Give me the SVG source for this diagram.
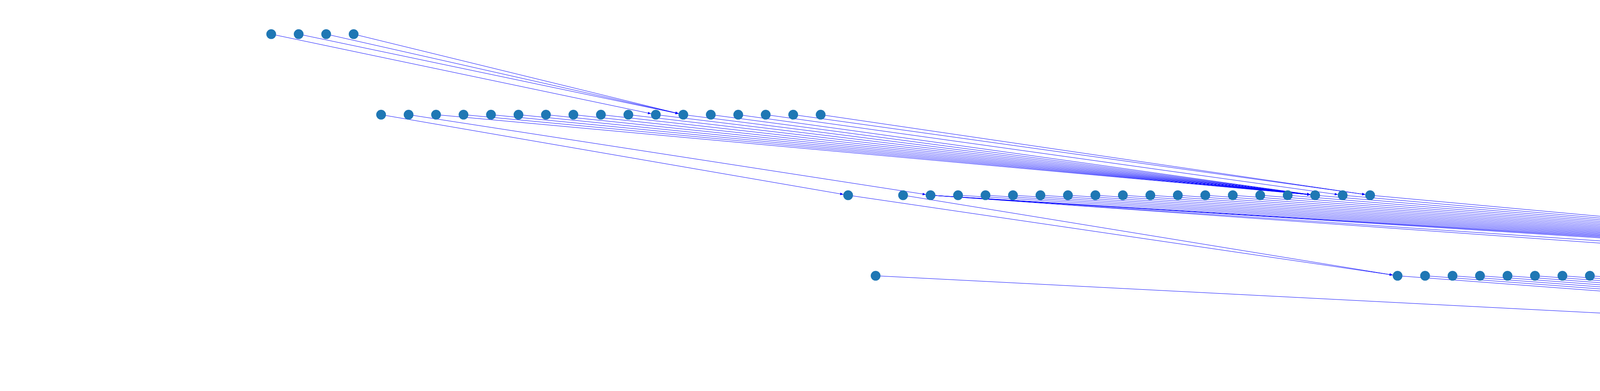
<svg xmlns="http://www.w3.org/2000/svg" width="8000" height="1000" viewBox="0 0 8000 1000">
<style>
.e{stroke:#0000ff;stroke-width:1;fill:none;marker-end:url(#arr)}
.n{fill:#1f77b4}
</style>
<defs>
<marker id="arr" markerUnits="userSpaceOnUse" markerWidth="8" markerHeight="6.5" viewBox="0 0 8 6.5" refX="20.5" refY="3.25" orient="auto" overflow="visible"><path d="M0,0 L8,3.25 L0,6.5 Z" fill="#0000ff"/></marker>
</defs>
<rect width="8000" height="1000" fill="#ffffff"/>
<g id="edges">
<line class="e" x1="694.3" y1="87.3" x2="1678.9" y2="293.3"/>
<line class="e" x1="764.6" y1="87.3" x2="1749.3" y2="293.3"/>
<line class="e" x1="835.0" y1="87.3" x2="1749.3" y2="293.3"/>
<line class="e" x1="905.3" y1="87.3" x2="1749.3" y2="293.3"/>
<line class="e" x1="975.6" y1="293.3" x2="2171.2" y2="499.3"/>
<line class="e" x1="1046.0" y1="293.3" x2="2382.2" y2="499.3"/>
<line class="e" x1="1116.3" y1="293.3" x2="3366.8" y2="499.3"/>
<line class="e" x1="1186.6" y1="293.3" x2="3366.8" y2="499.3"/>
<line class="e" x1="1256.9" y1="293.3" x2="3366.8" y2="499.3"/>
<line class="e" x1="1327.3" y1="293.3" x2="3366.8" y2="499.3"/>
<line class="e" x1="1397.6" y1="293.3" x2="3366.8" y2="499.3"/>
<line class="e" x1="1467.9" y1="293.3" x2="3366.8" y2="499.3"/>
<line class="e" x1="1538.3" y1="293.3" x2="3366.8" y2="499.3"/>
<line class="e" x1="1608.6" y1="293.3" x2="3366.8" y2="499.3"/>
<line class="e" x1="1678.9" y1="293.3" x2="3366.8" y2="499.3"/>
<line class="e" x1="1749.3" y1="293.3" x2="3366.8" y2="499.3"/>
<line class="e" x1="1819.6" y1="293.3" x2="3366.8" y2="499.3"/>
<line class="e" x1="1889.9" y1="293.3" x2="3366.8" y2="499.3"/>
<line class="e" x1="1960.2" y1="293.3" x2="3437.2" y2="499.3"/>
<line class="e" x1="2030.6" y1="293.3" x2="3507.5" y2="499.3"/>
<line class="e" x1="2100.9" y1="293.3" x2="3507.5" y2="499.3"/>
<line class="e" x1="2171.2" y1="499.3" x2="3577.8" y2="705.3"/>
<line class="e" x1="2311.9" y1="499.3" x2="3577.8" y2="705.3"/>
<line class="e" x1="2382.2" y1="499.3" x2="5265.8" y2="705.3"/>
<line class="e" x1="2382.2" y1="499.3" x2="5406.4" y2="705.3"/>
<line class="e" x1="2382.2" y1="499.3" x2="5617.4" y2="705.3"/>
<line class="e" x1="2382.2" y1="499.3" x2="5687.7" y2="705.3"/>
<line class="e" x1="2382.2" y1="499.3" x2="5758.1" y2="705.3"/>
<line class="e" x1="2452.6" y1="499.3" x2="5758.1" y2="705.3"/>
<line class="e" x1="2522.9" y1="499.3" x2="5758.1" y2="705.3"/>
<line class="e" x1="2593.2" y1="499.3" x2="5758.1" y2="705.3"/>
<line class="e" x1="2663.5" y1="499.3" x2="5758.1" y2="705.3"/>
<line class="e" x1="2733.9" y1="499.3" x2="5758.1" y2="705.3"/>
<line class="e" x1="2804.2" y1="499.3" x2="5758.1" y2="705.3"/>
<line class="e" x1="2874.5" y1="499.3" x2="5758.1" y2="705.3"/>
<line class="e" x1="2944.9" y1="499.3" x2="5758.1" y2="705.3"/>
<line class="e" x1="3015.2" y1="499.3" x2="5758.1" y2="705.3"/>
<line class="e" x1="3085.5" y1="499.3" x2="5758.1" y2="705.3"/>
<line class="e" x1="3155.9" y1="499.3" x2="5758.1" y2="705.3"/>
<line class="e" x1="3226.2" y1="499.3" x2="5758.1" y2="705.3"/>
<line class="e" x1="3296.5" y1="499.3" x2="5758.1" y2="705.3"/>
<line class="e" x1="3366.8" y1="499.3" x2="5758.1" y2="705.3"/>
<line class="e" x1="3437.2" y1="499.3" x2="5758.1" y2="705.3"/>
<line class="e" x1="3507.5" y1="499.3" x2="5758.1" y2="705.3"/>
<line class="e" x1="2241.6" y1="705.3" x2="6250.4" y2="911.3"/>
<line class="e" x1="3577.8" y1="705.3" x2="6320.7" y2="911.3"/>
<line class="e" x1="3648.2" y1="705.3" x2="6391.0" y2="911.3"/>
<line class="e" x1="3718.5" y1="705.3" x2="6461.4" y2="911.3"/>
<line class="e" x1="3788.8" y1="705.3" x2="6531.7" y2="911.3"/>
<line class="e" x1="3859.2" y1="705.3" x2="6602.0" y2="911.3"/>
<line class="e" x1="3929.5" y1="705.3" x2="6672.4" y2="911.3"/>
<line class="e" x1="3999.8" y1="705.3" x2="6742.7" y2="911.3"/>
<line class="e" x1="4070.1" y1="705.3" x2="6813.0" y2="911.3"/>
<line class="e" x1="4140.5" y1="705.3" x2="6883.3" y2="911.3"/>
<line class="e" x1="4210.8" y1="705.3" x2="6953.7" y2="911.3"/>
<line class="e" x1="4281.1" y1="705.3" x2="7024.0" y2="911.3"/>
<line class="e" x1="4351.5" y1="705.3" x2="7094.3" y2="911.3"/>
<line class="e" x1="4421.8" y1="705.3" x2="7164.7" y2="911.3"/>
<line class="e" x1="4492.1" y1="705.3" x2="7235.0" y2="911.3"/>
<line class="e" x1="4562.5" y1="705.3" x2="7235.0" y2="911.3"/>
<line class="e" x1="4632.8" y1="705.3" x2="7235.0" y2="911.3"/>
<line class="e" x1="4703.1" y1="705.3" x2="7235.0" y2="911.3"/>
<line class="e" x1="4773.4" y1="705.3" x2="7235.0" y2="911.3"/>
<line class="e" x1="4843.8" y1="705.3" x2="7235.0" y2="911.3"/>
<line class="e" x1="4914.1" y1="705.3" x2="7235.0" y2="911.3"/>
<line class="e" x1="4984.4" y1="705.3" x2="7235.0" y2="911.3"/>
<line class="e" x1="5054.8" y1="705.3" x2="7235.0" y2="911.3"/>
<line class="e" x1="5125.1" y1="705.3" x2="7235.0" y2="911.3"/>
<line class="e" x1="5195.4" y1="705.3" x2="7235.0" y2="911.3"/>
<line class="e" x1="5265.8" y1="705.3" x2="7235.0" y2="911.3"/>
<line class="e" x1="5336.1" y1="705.3" x2="7235.0" y2="911.3"/>
<line class="e" x1="5406.4" y1="705.3" x2="7235.0" y2="911.3"/>
<line class="e" x1="5476.7" y1="705.3" x2="7235.0" y2="911.3"/>
<line class="e" x1="5547.1" y1="705.3" x2="7235.0" y2="911.3"/>
<line class="e" x1="5617.4" y1="705.3" x2="7235.0" y2="911.3"/>
<line class="e" x1="5687.7" y1="705.3" x2="7235.0" y2="911.3"/>
<line class="e" x1="5758.1" y1="705.3" x2="7235.0" y2="911.3"/>
<line class="e" x1="5828.4" y1="705.3" x2="7235.0" y2="911.3"/>
<line class="e" x1="5898.7" y1="705.3" x2="7235.0" y2="911.3"/>
<line class="e" x1="5969.1" y1="705.3" x2="7235.0" y2="911.3"/>
<line class="e" x1="6039.4" y1="705.3" x2="7235.0" y2="911.3"/>
<line class="e" x1="6109.7" y1="705.3" x2="7235.0" y2="911.3"/>
<line class="e" x1="6180.0" y1="705.3" x2="7305.3" y2="911.3"/>
</g>
<g id="nodes">
<g id="n0"><circle class="n" cx="694.3" cy="87.3" r="12.5"/></g>
<g id="n1"><circle class="n" cx="764.6" cy="87.3" r="12.5"/></g>
<g id="n2"><circle class="n" cx="835.0" cy="87.3" r="12.5"/></g>
<g id="n3"><circle class="n" cx="905.3" cy="87.3" r="12.5"/></g>
<g id="n4"><circle class="n" cx="975.6" cy="293.3" r="12.5"/></g>
<g id="n5"><circle class="n" cx="1046.0" cy="293.3" r="12.5"/></g>
<g id="n6"><circle class="n" cx="1116.3" cy="293.3" r="12.5"/></g>
<g id="n7"><circle class="n" cx="1186.6" cy="293.3" r="12.5"/></g>
<g id="n8"><circle class="n" cx="1256.9" cy="293.3" r="12.5"/></g>
<g id="n9"><circle class="n" cx="1327.3" cy="293.3" r="12.5"/></g>
<g id="n10"><circle class="n" cx="1397.6" cy="293.3" r="12.5"/></g>
<g id="n11"><circle class="n" cx="1467.9" cy="293.3" r="12.5"/></g>
<g id="n12"><circle class="n" cx="1538.3" cy="293.3" r="12.5"/></g>
<g id="n13"><circle class="n" cx="1608.6" cy="293.3" r="12.5"/></g>
<g id="n14"><circle class="n" cx="1678.9" cy="293.3" r="12.5"/></g>
<g id="n15"><circle class="n" cx="1749.3" cy="293.3" r="12.5"/></g>
<g id="n16"><circle class="n" cx="1819.6" cy="293.3" r="12.5"/></g>
<g id="n17"><circle class="n" cx="1889.9" cy="293.3" r="12.5"/></g>
<g id="n18"><circle class="n" cx="1960.2" cy="293.3" r="12.5"/></g>
<g id="n19"><circle class="n" cx="2030.6" cy="293.3" r="12.5"/></g>
<g id="n20"><circle class="n" cx="2100.9" cy="293.3" r="12.5"/></g>
<g id="n21"><circle class="n" cx="2171.2" cy="499.3" r="12.5"/></g>
<g id="n22"><circle class="n" cx="2241.6" cy="705.3" r="12.5"/></g>
<g id="n23"><circle class="n" cx="2311.9" cy="499.3" r="12.5"/></g>
<g id="n24"><circle class="n" cx="2382.2" cy="499.3" r="12.5"/></g>
<g id="n25"><circle class="n" cx="2452.6" cy="499.3" r="12.5"/></g>
<g id="n26"><circle class="n" cx="2522.9" cy="499.3" r="12.5"/></g>
<g id="n27"><circle class="n" cx="2593.2" cy="499.3" r="12.5"/></g>
<g id="n28"><circle class="n" cx="2663.5" cy="499.3" r="12.5"/></g>
<g id="n29"><circle class="n" cx="2733.9" cy="499.3" r="12.5"/></g>
<g id="n30"><circle class="n" cx="2804.2" cy="499.3" r="12.5"/></g>
<g id="n31"><circle class="n" cx="2874.5" cy="499.3" r="12.5"/></g>
<g id="n32"><circle class="n" cx="2944.9" cy="499.3" r="12.5"/></g>
<g id="n33"><circle class="n" cx="3015.2" cy="499.3" r="12.5"/></g>
<g id="n34"><circle class="n" cx="3085.5" cy="499.3" r="12.5"/></g>
<g id="n35"><circle class="n" cx="3155.9" cy="499.3" r="12.5"/></g>
<g id="n36"><circle class="n" cx="3226.2" cy="499.3" r="12.5"/></g>
<g id="n37"><circle class="n" cx="3296.5" cy="499.3" r="12.5"/></g>
<g id="n38"><circle class="n" cx="3366.8" cy="499.3" r="12.5"/></g>
<g id="n39"><circle class="n" cx="3437.2" cy="499.3" r="12.5"/></g>
<g id="n40"><circle class="n" cx="3507.5" cy="499.3" r="12.5"/></g>
<g id="n41"><circle class="n" cx="3577.8" cy="705.3" r="12.5"/></g>
<g id="n42"><circle class="n" cx="3648.2" cy="705.3" r="12.5"/></g>
<g id="n43"><circle class="n" cx="3718.5" cy="705.3" r="12.5"/></g>
<g id="n44"><circle class="n" cx="3788.8" cy="705.3" r="12.5"/></g>
<g id="n45"><circle class="n" cx="3859.2" cy="705.3" r="12.5"/></g>
<g id="n46"><circle class="n" cx="3929.5" cy="705.3" r="12.5"/></g>
<g id="n47"><circle class="n" cx="3999.8" cy="705.3" r="12.5"/></g>
<g id="n48"><circle class="n" cx="4070.1" cy="705.3" r="12.5"/></g>
<g id="n49"><circle class="n" cx="4140.5" cy="705.3" r="12.5"/></g>
<g id="n50"><circle class="n" cx="4210.8" cy="705.3" r="12.5"/></g>
<g id="n51"><circle class="n" cx="4281.1" cy="705.3" r="12.5"/></g>
<g id="n52"><circle class="n" cx="4351.5" cy="705.3" r="12.5"/></g>
<g id="n53"><circle class="n" cx="4421.8" cy="705.3" r="12.5"/></g>
<g id="n54"><circle class="n" cx="4492.1" cy="705.3" r="12.5"/></g>
<g id="n55"><circle class="n" cx="4562.5" cy="705.3" r="12.5"/></g>
<g id="n56"><circle class="n" cx="4632.8" cy="705.3" r="12.5"/></g>
<g id="n57"><circle class="n" cx="4703.1" cy="705.3" r="12.5"/></g>
<g id="n58"><circle class="n" cx="4773.4" cy="705.3" r="12.5"/></g>
<g id="n59"><circle class="n" cx="4843.8" cy="705.3" r="12.5"/></g>
<g id="n60"><circle class="n" cx="4914.1" cy="705.3" r="12.5"/></g>
<g id="n61"><circle class="n" cx="4984.4" cy="705.3" r="12.5"/></g>
<g id="n62"><circle class="n" cx="5054.8" cy="705.3" r="12.5"/></g>
<g id="n63"><circle class="n" cx="5125.1" cy="705.3" r="12.5"/></g>
<g id="n64"><circle class="n" cx="5195.4" cy="705.3" r="12.5"/></g>
<g id="n65"><circle class="n" cx="5265.8" cy="705.3" r="12.5"/></g>
<g id="n66"><circle class="n" cx="5336.1" cy="705.3" r="12.5"/></g>
<g id="n67"><circle class="n" cx="5406.4" cy="705.3" r="12.5"/></g>
<g id="n68"><circle class="n" cx="5476.7" cy="705.3" r="12.5"/></g>
<g id="n69"><circle class="n" cx="5547.1" cy="705.3" r="12.5"/></g>
<g id="n70"><circle class="n" cx="5617.4" cy="705.3" r="12.5"/></g>
<g id="n71"><circle class="n" cx="5687.7" cy="705.3" r="12.5"/></g>
<g id="n72"><circle class="n" cx="5758.1" cy="705.3" r="12.5"/></g>
<g id="n73"><circle class="n" cx="5828.4" cy="705.3" r="12.5"/></g>
<g id="n74"><circle class="n" cx="5898.7" cy="705.3" r="12.5"/></g>
<g id="n75"><circle class="n" cx="5969.1" cy="705.3" r="12.5"/></g>
<g id="n76"><circle class="n" cx="6039.4" cy="705.3" r="12.5"/></g>
<g id="n77"><circle class="n" cx="6109.7" cy="705.3" r="12.5"/></g>
<g id="n78"><circle class="n" cx="6180.0" cy="705.3" r="12.5"/></g>
<g id="n79"><circle class="n" cx="6250.4" cy="911.3" r="12.5"/></g>
<g id="n80"><circle class="n" cx="6320.7" cy="911.3" r="12.5"/></g>
<g id="n81"><circle class="n" cx="6391.0" cy="911.3" r="12.5"/></g>
<g id="n82"><circle class="n" cx="6461.4" cy="911.3" r="12.5"/></g>
<g id="n83"><circle class="n" cx="6531.7" cy="911.3" r="12.5"/></g>
<g id="n84"><circle class="n" cx="6602.0" cy="911.3" r="12.5"/></g>
<g id="n85"><circle class="n" cx="6672.4" cy="911.3" r="12.5"/></g>
<g id="n86"><circle class="n" cx="6742.7" cy="911.3" r="12.5"/></g>
<g id="n87"><circle class="n" cx="6813.0" cy="911.3" r="12.5"/></g>
<g id="n88"><circle class="n" cx="6883.3" cy="911.3" r="12.5"/></g>
<g id="n89"><circle class="n" cx="6953.7" cy="911.3" r="12.5"/></g>
<g id="n90"><circle class="n" cx="7024.0" cy="911.3" r="12.5"/></g>
<g id="n91"><circle class="n" cx="7094.3" cy="911.3" r="12.5"/></g>
<g id="n92"><circle class="n" cx="7164.7" cy="911.3" r="12.5"/></g>
<g id="n93"><circle class="n" cx="7235.0" cy="911.3" r="12.5"/></g>
<g id="n94"><circle class="n" cx="7305.3" cy="911.3" r="12.5"/></g>
</g>
</svg>
